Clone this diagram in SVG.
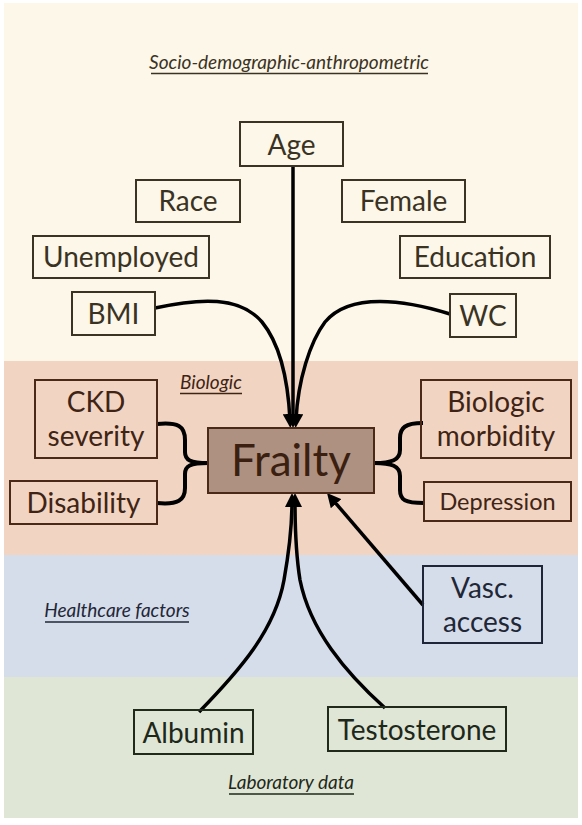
<svg xmlns="http://www.w3.org/2000/svg" width="582" height="825" viewBox="0 0 582 825">
<style>
.t{font-family:Lato,"Liberation Sans",sans-serif;font-size:28px;text-anchor:middle}
.lab{font-family:Lato,"Liberation Sans",sans-serif;font-style:italic;font-size:19px;text-anchor:middle}
.b{fill:none;stroke-width:2}
.soc .b{stroke:#3b3424}.soc text{fill:#3a3324}
.bio .b{stroke:#4b2919}.bio text{fill:#3f2415}
.hc .b{stroke:#1e2637}.hc text{fill:#1f2737}
.lb .b{stroke:#1f2a1b}.lb text{fill:#1e281a}
.c{fill:none;stroke:#000;stroke-width:3.5}
.br{fill:none;stroke:#000;stroke-width:4}
</style>
<defs>
<marker id="ah" markerUnits="userSpaceOnUse" markerWidth="16" markerHeight="14" refX="6" refY="7" orient="auto">
<path d="M0,0 L14,7 L0,14 z" fill="#000"/>
</marker>
</defs>
<rect x="0" y="0" width="582" height="825" fill="#fff"/>
<rect x="4" y="3" width="574" height="358" fill="#fdf7e9"/>
<rect x="4" y="361" width="574" height="194" fill="#f1d4c2"/>
<rect x="4" y="555" width="574" height="122" fill="#d5dcea"/>
<rect x="4" y="677" width="574" height="141" fill="#dfe6d6"/>

<g id="label-socio" class="soc">
<text class="lab" x="289" y="69">Socio-demographic-anthropometric</text>
<line x1="151" y1="73.5" x2="428" y2="73.5" stroke="#3a3324" stroke-width="1.3"/>
</g>
<g id="label-biologic" class="bio">
<text class="lab" x="211" y="389">Biologic</text>
<line x1="180" y1="393.5" x2="242" y2="393.5" stroke="#3f2415" stroke-width="1.3"/>
</g>
<g id="label-healthcare" class="hc">
<text class="lab" x="117" y="617">Healthcare factors</text>
<line x1="45" y1="622" x2="189" y2="622" stroke="#1f2737" stroke-width="1.3"/>
</g>
<g id="label-lab" class="lb">
<text class="lab" x="291" y="789">Laboratory data</text>
<line x1="229" y1="794" x2="354" y2="794" stroke="#1e281a" stroke-width="1.3"/>
</g>

<g id="connectors">
<path class="c" d="M293,166 L293,420" marker-end="url(#ah)"/>
<path class="c" d="M155,308 C200,298 240,296 262,322 C280,344 288,380 290,420" marker-end="url(#ah)"/>
<path class="c" d="M450,314 C405,300 350,292 325,322 C310,342 298,380 296,420" marker-end="url(#ah)"/>
<path class="c" d="M199,712 C240,670 275,630 284,580 C289,552 292,530 292,501" marker-end="url(#ah)"/>
<path class="c" d="M385,708 C345,672 310,630 300,580 C296,555 295,530 295,501" marker-end="url(#ah)"/>
<path class="c" d="M423,605 L332.2,499.1" marker-end="url(#ah)"/>
<path class="br" d="M157,424 C178,422 185,426 185,440 L185,452 C185,460 190,463 208,463"/>
<path class="br" d="M157,503 C178,505 185,500 185,488 L185,474 C185,466 190,463 208,463"/>
<path class="br" d="M374,463 C392,463 400,460 400,450 L400,438 C400,428 405,423 423,423"/>
<path class="br" d="M374,463 C392,463 400,466 400,476 L400,490 C400,500 405,503 424,503"/>
</g>

<g id="age" class="soc"><rect class="b" x="240" y="122" width="103" height="44"/><text class="t" x="291.5" y="155">Age</text></g>
<g id="race" class="soc"><rect class="b" x="136" y="180" width="104" height="42"/><text class="t" x="188" y="211">Race</text></g>
<g id="female" class="soc"><rect class="b" x="342" y="180" width="123" height="42"/><text class="t" x="403.5" y="211">Female</text></g>
<g id="unemployed" class="soc"><rect class="b" x="33" y="236" width="176" height="42"/><text class="t" x="121" y="267">Unemployed</text></g>
<g id="education" class="soc"><rect class="b" x="400" y="236" width="150" height="42"/><text class="t" x="475" y="267">Education</text></g>
<g id="bmi" class="soc"><rect class="b" x="72" y="292" width="83" height="43"/><text class="t" x="113.5" y="324">BMI</text></g>
<g id="wc" class="soc"><rect class="b" x="450" y="294" width="66" height="43"/><text class="t" x="483" y="326">WC</text></g>

<g id="ckd" class="bio"><rect class="b" x="35" y="380" width="122" height="78"/><text class="t" x="96" y="412">CKD</text><text class="t" x="96" y="446">severity</text></g>
<g id="disability" class="bio"><rect class="b" x="10" y="481" width="147" height="43"/><text class="t" x="83.5" y="513">Disability</text></g>
<g id="frailty" class="bio"><rect x="208" y="428" width="166" height="65" fill="#ae9180" stroke="#4b2919" stroke-width="2"/><text class="t" x="291" y="476" style="font-size:44px;fill:#3b1f10">Frailty</text></g>
<g id="morbidity" class="bio"><rect class="b" x="421" y="380" width="150" height="78"/><text class="t" x="496" y="412">Biologic</text><text class="t" x="496" y="446">morbidity</text></g>
<g id="depression" class="bio"><rect class="b" x="424" y="482" width="147" height="39"/><text class="t" x="497.5" y="510" style="font-size:23.5px">Depression</text></g>

<g id="vasc" class="hc"><rect class="b" x="423" y="566" width="119" height="77"/><text class="t" x="482.5" y="598">Vasc.</text><text class="t" x="482.5" y="632">access</text></g>

<g id="albumin" class="lb"><rect class="b" x="134" y="710" width="119" height="44"/><text class="t" x="193.5" y="743">Albumin</text></g>
<g id="testosterone" class="lb"><rect class="b" x="328" y="707" width="178" height="44"/><text class="t" x="417" y="740">Testosterone</text></g>
</svg>
